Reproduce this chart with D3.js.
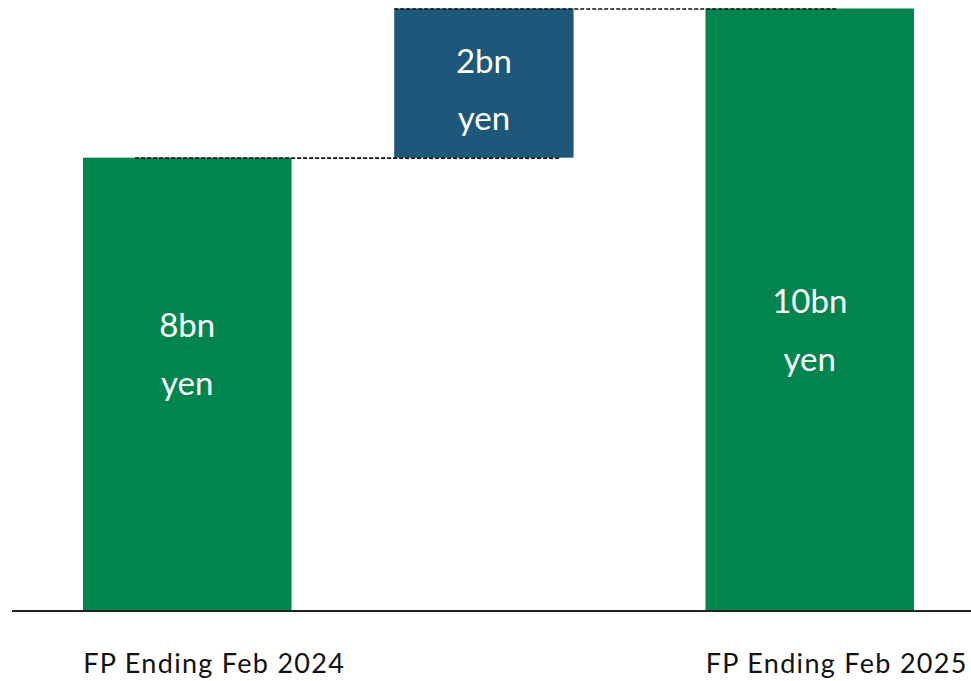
<!DOCTYPE html>
<html>
<head>
<meta charset="utf-8">
<script src="https://cdn.jsdelivr.net/npm/d3@7"></script>
<style>
  html, body { margin: 0; padding: 0; background: #fff; }
  svg { display: block; font-family: "Lato", "Noto Sans", sans-serif; }
</style>
</head>
<body>
<svg width="971" height="681"></svg>
<script>
// data
const categories = ["FP Ending Feb 2024", "Change", "FP Ending Feb 2025"];
const starts = [0, 7.52, 0];
const values = [7.52, 2.48, 10];
const valueLabels = [["8bn", "yen"], ["2bn", "yen"], ["10bn", "yen"]];
const labelAt = [4.3, 8.7, 4.7];   // where each label block sits (in value units)
const axisLabels = ["FP Ending Feb 2024", "", "FP Ending Feb 2025"];

const svg = d3.select("svg"),
      width = +svg.attr("width"),
      height = +svg.attr("height");

const baseY = 610;
const green = "#00854f", blue = "#1d577a";

const x = d3.scaleBand().domain(categories).range([83, 914]).paddingInner(0.33).paddingOuter(0);
const y = d3.scaleLinear().domain([0, 10]).range([baseY, 8.5]);
const bw = x.bandwidth();
const deltaWidth = 0.86;

const bars = categories.map((c, i) => ({
  cat: c, start: starts[i], end: starts[i] + values[i],
  labels: valueLabels[i], at: labelAt[i], delta: i === 1
}));

// connector lines
const connectors = [
  {v: bars[0].end, x1: x(categories[0]) + bw * 0.25, x2: x(categories[1]) + bw * 0.8},
  {v: bars[1].end, x1: x(categories[1]), x2: x(categories[2]) + bw * 0.63}
];

svg.append("g")
  .selectAll("rect")
  .data(bars)
  .join("rect")
  .attr("x", d => x(d.cat))
  .attr("width", d => d.delta ? bw * deltaWidth : bw)
  .attr("y", d => y(d.end))
  .attr("height", d => y(d.start) - y(d.end))
  .attr("fill", d => d.delta ? blue : green);

svg.append("g")
  .selectAll("line")
  .data(connectors)
  .join("line")
  .attr("x1", d => d.x1)
  .attr("x2", d => d.x2)
  .attr("y1", d => y(d.v) + 0.5)
  .attr("y2", d => y(d.v) + 0.5)
  .attr("stroke", "#111")
  .attr("stroke-width", 1.7)
  .attr("stroke-dasharray", "4,2");

// labels inside bars
const lbl = svg.append("g")
  .selectAll("text")
  .data(bars)
  .join("text")
  .attr("text-anchor", "middle")
  .attr("fill", "#fff")
  .style("font-size", "33px")
  .attr("x", d => x(d.cat) + (d.delta ? bw * deltaWidth : bw) / 2)
  .attr("y", d => y(d.at));

lbl.selectAll("tspan")
  .data(d => d.labels.map((t, k) => ({t, k})))
  .join("tspan")
  .attr("x", function() { return this.parentNode.getAttribute("x"); })
  .attr("dy", d => d.k === 0 ? "-0.42em" : "1.73em")
  .text(d => d.t);

// baseline
svg.append("line")
  .attr("x1", 12).attr("x2", width)
  .attr("y1", baseY + 1).attr("y2", baseY + 1)
  .attr("stroke", "#222")
  .attr("stroke-width", 1.8);

// category axis
const axis = svg.append("g")
  .attr("transform", `translate(27,${baseY})`)
  .call(d3.axisBottom(x).tickSize(0).tickPadding(44).tickFormat((d, i) => axisLabels[i]));
axis.select(".domain").remove();
axis.selectAll("text")
  .attr("fill", "#111")
  .style("font-family", "Lato, 'Noto Sans', sans-serif")
  .style("font-size", "27px")
  .style("letter-spacing", "1.3px");
</script>
</body>
</html>
